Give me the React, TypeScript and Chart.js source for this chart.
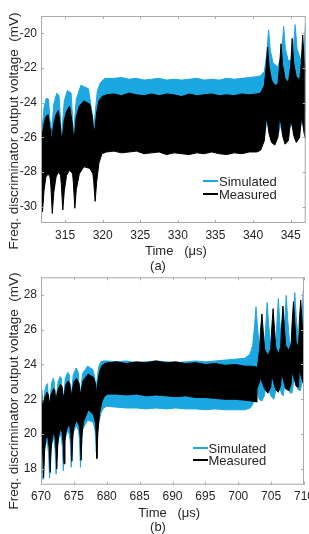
import React, { useEffect, useRef } from "react";
import { Chart, registerables } from "chart.js";

Chart.register(...registerables);

// ---------- Panel (a): 311.8 – 347 µs, output in mV ----------
// Each trace is a dense oscillation, stored as its upper / lower envelope.
const timeMeasA = [
  311.8, 312.0, 312.2, 312.45, 312.75, 313.0,
  313.1, 313.3, 313.5, 313.8, 314.1, 314.4,
  314.5, 314.7, 314.9, 315.2, 315.6, 316.0,
  316.1, 316.3, 316.5, 316.9, 317.5, 318.3, 318.7,
  318.8, 319.0, 319.2, 319.5, 319.9, 320.5,
  321.5, 322.5, 323.5, 324.5, 325.5, 326.5, 327.5, 328.5, 329.5, 330.5,
  331.5, 332.5, 333.5, 334.5, 335.5, 336.5, 337.5, 338.5, 339.5, 340.5,
  341.0, 341.5, 341.73, 341.93, 342.13, 342.45, 342.9,
  343.3, 343.52, 343.72, 343.92, 344.25, 344.7,
  345.0, 345.2, 345.4, 345.75, 346.2,
  346.4, 346.6, 346.8, 347.0,
];
const upperMeasA = [
  -25.6, -25.8, -25.2, -24.8, -24.7, -25.5,
  -26.2, -25.9, -25.2, -24.7, -24.45, -25.4,
  -26.1, -25.8, -25.0, -24.5, -24.2, -25.3,
  -26.0, -25.7, -24.8, -24.2, -23.9, -24.1, -25.0,
  -25.8, -25.4, -24.6, -23.9, -23.65, -23.55,
  -23.5, -23.6, -23.45, -23.55, -23.6, -23.5, -23.6, -23.5, -23.55, -23.65,
  -23.5, -23.6, -23.55, -23.5, -23.6, -23.55, -23.6, -23.5, -23.55, -23.5,
  -23.45, -23.0, -22.0, -20.8, -21.9, -22.7, -23.0,
  -22.95, -21.9, -20.6, -21.8, -22.6, -22.85,
  -21.9, -20.3, -21.7, -22.5, -22.7,
  -21.8, -20.1, -21.6, -22.3,
];
const lowerMeasA = [
  -29.3, -30.3, -29.1, -28.3, -28.1, -28.3,
  -28.7, -30.4, -29.2, -28.3, -28.0, -28.2,
  -28.7, -30.2, -29.1, -28.2, -27.9, -28.1,
  -28.6, -30.1, -29.0, -28.1, -27.7, -27.8, -28.1,
  -28.5, -29.7, -28.6, -27.5, -26.95, -26.85,
  -26.8, -26.9, -26.85, -26.8, -26.95, -26.9, -26.85, -27.0, -26.9, -26.95,
  -27.0, -26.9, -26.95, -26.85, -26.95, -27.0, -26.9, -26.95, -26.85, -26.85,
  -26.75, -26.2, -24.9, -25.2, -25.8, -26.3, -26.45,
  -26.0, -24.9, -25.2, -25.9, -26.4, -26.2,
  -25.0, -25.3, -25.9, -26.3, -26.0,
  -24.9, -25.2, -25.8, -26.1,
];

const timeSimA = [
  311.8, 312.0, 312.2, 312.5, 312.8, 313.0,
  313.1, 313.3, 313.5, 313.9, 314.2, 314.4,
  314.5, 314.7, 314.9, 315.3, 315.8, 316.0,
  316.1, 316.3, 316.5, 317.1, 318.1, 318.6,
  318.8, 319.0, 319.3, 319.7, 320.3,
  321.5, 322.5, 323.5, 324.5, 325.5, 326.5, 327.5, 328.5, 329.5, 330.5,
  331.5, 332.5, 333.5, 334.5, 335.5, 336.5, 337.5, 338.5, 339.5, 340.5,
  341.0, 341.5, 341.8, 342.07, 342.3, 342.65,
  343.3, 343.8, 344.07, 344.3, 344.7,
  345.25, 345.6, 345.85, 346.3,
  346.75, 347.0,
];
const upperSimA = [
  -24.8, -25.3, -24.3, -23.75, -23.8, -25.1,
  -26.3, -25.2, -24.1, -23.45, -23.6, -25.0,
  -26.2, -25.0, -23.9, -23.3, -23.45, -24.9,
  -26.1, -24.8, -23.8, -23.0, -23.2, -24.6,
  -25.8, -24.6, -23.3, -22.85, -22.6,
  -22.6, -22.55, -22.65, -22.6, -22.7, -22.65, -22.6, -22.7, -22.65, -22.7,
  -22.65, -22.6, -22.7, -22.65, -22.7, -22.6, -22.65, -22.6, -22.55, -22.5,
  -22.45, -22.2, -21.3, -19.8, -21.0, -21.7,
  -21.95, -21.2, -19.6, -20.9, -21.6,
  -21.5, -19.5, -20.9, -21.5,
  -21.0, -19.4,
];
const lowerSimA = [
  -28.1, -27.6, -27.2, -27.1, -27.2, -27.7,
  -28.2, -27.6, -27.2, -27.0, -27.2, -27.7,
  -28.2, -27.7, -27.2, -27.0, -27.1, -27.6,
  -28.2, -27.7, -27.3, -27.0, -27.2, -27.8,
  -28.3, -27.6, -26.9, -26.6, -26.45,
  -26.4, -26.45, -26.4, -26.4, -26.45, -26.4, -26.4, -26.45, -26.4, -26.4,
  -26.45, -26.4, -26.4, -26.45, -26.4, -26.4, -26.45, -26.4, -26.4, -26.35,
  -26.3, -26.0, -25.2, -24.4, -25.0, -25.6,
  -25.9, -25.1, -24.2, -24.9, -25.5,
  -25.3, -24.2, -24.9, -25.4,
  -24.9, -24.2,
];

const xTicksA = [315, 320, 325, 330, 335, 340, 345];
const yTicksA = [-30, -28, -26, -24, -22, -20];

// ---------- Panel (b): 670 – 710 µs ----------
const timeMeasB = [
  670.0, 670.1, 670.25, 670.4, 670.55, 670.7, 670.9,
  671.1, 671.25, 671.4, 671.55, 671.7, 671.9,
  672.1, 672.25, 672.4, 672.55, 672.7, 672.95,
  673.2, 673.35, 673.5, 673.65, 673.8, 674.1,
  674.4, 674.55, 674.7, 674.85, 675.0, 675.4,
  675.8, 675.95, 676.1, 676.25, 676.45, 677.2,
  678.0, 678.3, 678.4, 678.5, 678.65, 678.9, 679.3, 679.7, 680.2,
  681.5, 683.0, 684.5, 686.0, 687.5, 689.0, 690.5, 692.0, 693.5, 695.0,
  696.5, 698.0, 699.5, 701.0, 702.0, 702.8, 702.85,
  703.25, 703.38, 703.6, 703.82, 704.0, 704.5,
  704.95, 705.08, 705.3, 705.52, 705.7, 706.1,
  706.45, 706.58, 706.8, 707.02, 707.2, 707.7,
  708.05, 708.18, 708.4, 708.62, 708.8, 709.1,
  709.2, 709.28, 709.5, 709.72, 709.9, 710.0,
];
const upperMeasB = [
  22.2, 22.1, 21.5, 21.8, 22.1, 22.2, 22.4,
  22.3, 21.7, 22.0, 22.3, 22.4, 22.6,
  22.55, 21.9, 22.2, 22.5, 22.65, 22.85,
  22.75, 22.0, 22.3, 22.6, 22.85, 23.05,
  22.9, 22.1, 22.4, 22.7, 23.0, 23.2,
  22.9, 22.2, 22.5, 22.8, 23.1, 23.45,
  23.25, 22.9, 22.3, 22.6, 23.0, 23.6, 23.95, 24.05, 24.1,
  24.15, 24.05, 24.15, 24.1, 24.2, 24.1, 24.15, 24.05, 24.1, 24.0,
  24.05, 23.95, 24.0, 23.9, 23.9, 23.85, 23.6,
  24.9, 25.9, 26.9, 25.8, 24.9, 24.5,
  24.9, 26.0, 27.2, 26.0, 25.0, 24.6,
  25.0, 26.1, 27.35, 26.1, 25.1, 24.8,
  25.2, 26.3, 27.6, 26.3, 25.3, 25.0,
  25.3, 26.4, 27.7, 26.4, 25.4, 25.2,
];
const lowerMeasB = [
  19.8, 19.6, 19.1, 17.5, 19.1, 19.6, 20.0,
  19.7, 19.2, 17.8, 19.2, 19.7, 20.1,
  19.9, 19.4, 18.0, 19.4, 19.9, 20.3,
  20.1, 19.6, 18.3, 19.6, 20.1, 20.5,
  20.4, 19.9, 18.45, 19.9, 20.4, 20.8,
  20.5, 20.0, 18.5, 20.0, 20.7, 21.4,
  21.1, 20.6, 20.0, 18.6, 20.1, 21.2, 21.9, 22.2, 22.3,
  22.3, 22.25, 22.3, 22.2, 22.25, 22.2, 22.15, 22.2, 22.1, 22.1,
  22.05, 22.0, 22.0, 21.95, 21.9, 21.85, 22.6,
  23.0, 23.3, 23.0, 22.8, 22.6, 22.35,
  22.7, 23.4, 23.1, 22.8, 22.55, 22.4,
  22.8, 23.5, 23.2, 22.9, 22.6, 22.5,
  22.9, 23.6, 23.3, 23.0, 22.75, 22.7,
  23.0, 23.7, 23.4, 23.1, 22.9, 22.85,
];

const timeSimB = [
  670.0, 670.15, 670.3, 670.45, 670.6, 670.8,
  671.0, 671.15, 671.3, 671.45, 671.6, 671.85,
  672.0, 672.15, 672.3, 672.45, 672.6, 672.9,
  673.1, 673.25, 673.4, 673.55, 673.7, 674.05,
  674.3, 674.45, 674.6, 674.75, 674.9, 675.35,
  675.7, 675.85, 676.0, 676.15, 676.35, 677.1,
  677.9, 678.2, 678.3, 678.4, 678.55, 678.8, 679.1, 679.5, 680.0,
  681.5, 683.0, 684.5, 686.0, 687.5, 689.0, 690.5, 692.0, 693.5, 695.0,
  696.5, 698.0, 699.5, 701.0, 701.8, 702.2, 702.5,
  702.7, 702.9, 703.2, 703.6, 703.95, 704.2,
  704.4, 704.6, 704.95, 705.4, 705.7, 705.9,
  706.1, 706.3, 706.6, 706.85, 707.05, 707.3,
  707.5, 707.8, 708.15, 708.4, 708.6, 708.8,
  709.1, 709.45, 709.7, 709.9, 710.0,
];
const upperSimB = [
  22.5, 21.3, 21.6, 22.0, 22.5, 22.8,
  22.9, 21.5, 21.8, 22.3, 22.9, 23.2,
  23.0, 21.7, 22.0, 22.5, 23.0, 23.3,
  23.2, 21.8, 22.1, 22.6, 23.2, 23.55,
  23.4, 21.9, 22.2, 22.8, 23.4, 23.8,
  23.5, 22.0, 22.3, 22.9, 23.5, 23.9,
  23.7, 23.2, 22.2, 22.6, 23.2, 23.9, 24.15, 24.2, 24.2,
  24.15, 24.2, 24.1, 24.15, 24.2, 24.15, 24.1, 24.15, 24.2, 24.15,
  24.2, 24.25, 24.3, 24.35, 24.6, 25.1, 26.3,
  27.3, 26.3, 25.0, 24.5, 24.9, 26.3,
  27.55, 26.4, 25.0, 24.6, 25.2, 26.5,
  27.78, 26.5, 25.2, 25.0, 26.3, 27.96,
  26.7, 25.3, 25.1, 26.6, 28.12, 26.8,
  25.5, 25.3, 26.7, 28.25, 27.2,
];
const lowerSimB = [
  19.2, 18.7, 17.4, 18.7, 19.2, 19.6,
  19.4, 18.9, 17.5, 18.9, 19.4, 19.8,
  19.6, 19.1, 17.7, 19.1, 19.6, 20.0,
  19.8, 19.3, 17.9, 19.3, 19.8, 20.2,
  20.0, 19.6, 18.1, 19.6, 20.1, 20.5,
  20.2, 19.7, 18.1, 19.7, 20.3, 20.8,
  20.7, 20.3, 19.8, 19.0, 19.9, 20.7, 21.2, 21.5, 21.6,
  21.55, 21.5, 21.5, 21.45, 21.5, 21.45, 21.5, 21.45, 21.45, 21.4,
  21.45, 21.4, 21.4, 21.4, 21.5, 21.7, 22.2,
  22.9, 22.4, 22.0, 21.9, 22.2, 22.7,
  23.1, 22.6, 22.2, 22.0, 22.5, 22.9,
  23.2, 22.7, 22.3, 22.2, 22.8, 23.3,
  22.8, 22.4, 22.35, 22.9, 23.4, 22.9,
  22.55, 22.5, 23.0, 23.5, 23.3,
];

const xTicksB = [670, 675, 680, 685, 690, 695, 700, 705, 710];
const yTicksB = [18, 20, 22, 24, 26, 28];

const seriesNames = ["Simulated", "Measured"];

const SIM_COLOR = "#1ba7e2";
const MEAS_COLOR = "#000000";
const FRAME_COLOR = "#a9a9a9";
const TEXT_COLOR = "#262626";
const FONT = "'Liberation Sans', Arial, Helvetica, sans-serif";
const CANVAS_W = 330;

type Band = { t: number[]; hi: number[]; lo: number[] };

function toPoints(t: number[], v: number[]) {
  return t.map((x, i) => ({ x, y: v[i] }));
}

// Box around the plot area with short inward ticks on all four sides.
const framePlugin = {
  id: "frame",
  afterDatasetsDraw(chart: any) {
    const { ctx, chartArea: a, scales } = chart;
    const len = 3;
    ctx.save();
    ctx.strokeStyle = FRAME_COLOR;
    ctx.lineWidth = 1;
    ctx.strokeRect(a.left + 0.5, a.top + 0.5, a.right - a.left - 1, a.bottom - a.top - 1);
    ctx.beginPath();
    for (const tk of scales.x.ticks) {
      const px = Math.round(scales.x.getPixelForValue(tk.value)) + 0.5;
      ctx.moveTo(px, a.bottom);
      ctx.lineTo(px, a.bottom - len);
      ctx.moveTo(px, a.top);
      ctx.lineTo(px, a.top + len);
    }
    for (const tk of scales.y.ticks) {
      const py = Math.round(scales.y.getPixelForValue(tk.value)) + 0.5;
      ctx.moveTo(a.left, py);
      ctx.lineTo(a.left + len, py);
      ctx.moveTo(a.right, py);
      ctx.lineTo(a.right - len, py);
    }
    ctx.stroke();
    ctx.restore();
  },
};

type PanelProps = {
  top: number;
  height: number;
  pad: { top: number; right: number; bottom: number };
  xRange: [number, number];
  yRange: [number, number];
  xTicks: number[];
  yTicks: number[];
  measured: Band;
  simulated: Band;
};

function Panel(p: PanelProps) {
  const ref = useRef<HTMLCanvasElement>(null);

  useEffect(() => {
    const lineStyle = { pointRadius: 0, borderWidth: 1, tension: 0 };
    const tickFont = { family: FONT, size: 12 };
    const chart = new Chart(ref.current as HTMLCanvasElement, {
      type: "line",
      data: {
        datasets: [
          // index 0/1: measured envelope (drawn last, on top)
          { ...lineStyle, data: toPoints(p.measured.t, p.measured.hi), borderColor: MEAS_COLOR, fill: false },
          { ...lineStyle, data: toPoints(p.measured.t, p.measured.lo), borderColor: MEAS_COLOR, backgroundColor: MEAS_COLOR, fill: "-1" },
          // index 2/3: simulated envelope
          { ...lineStyle, data: toPoints(p.simulated.t, p.simulated.hi), borderColor: SIM_COLOR, fill: false },
          { ...lineStyle, data: toPoints(p.simulated.t, p.simulated.lo), borderColor: SIM_COLOR, backgroundColor: SIM_COLOR, fill: "-1" },
        ],
      },
      options: {
        animation: false,
        responsive: false,
        maintainAspectRatio: false,
        layout: { padding: { left: 0, top: p.pad.top, right: p.pad.right, bottom: p.pad.bottom } },
        plugins: { legend: { display: false }, tooltip: { enabled: false } },
        scales: {
          x: {
            type: "linear",
            min: p.xRange[0],
            max: p.xRange[1],
            grid: { display: false, drawTicks: false },
            border: { display: false },
            ticks: { font: tickFont, color: TEXT_COLOR, padding: 5, maxRotation: 0, callback: (v: any) => String(v) },
            afterBuildTicks: (s: any) => {
              s.ticks = p.xTicks.map((value) => ({ value }));
            },
            afterFit: (s: any) => {
              s.height = 20;
            },
          },
          y: {
            type: "linear",
            min: p.yRange[0],
            max: p.yRange[1],
            grid: { display: false, drawTicks: false },
            border: { display: false },
            ticks: { font: tickFont, color: TEXT_COLOR, padding: 4, callback: (v: any) => String(v) },
            afterBuildTicks: (s: any) => {
              s.ticks = p.yTicks.map((value) => ({ value }));
            },
            afterFit: (s: any) => {
              s.width = 41;
            },
          },
        },
      },
      plugins: [framePlugin],
    });
    return () => chart.destroy();
  }, []);

  return (
    <div style={{ position: "absolute", left: 0, top: p.top, width: CANVAS_W, height: p.height }}>
      <canvas ref={ref} width={CANVAS_W} height={p.height} style={{ display: "block" }} />
    </div>
  );
}

const textBase: React.CSSProperties = {
  position: "absolute",
  fontFamily: FONT,
  color: TEXT_COLOR,
  whiteSpace: "pre",
  lineHeight: 1,
};

function YTitle({ cx, cy }: { cx: number; cy: number }) {
  return (
    <div
      style={{
        ...textBase,
        left: cx,
        top: cy,
        fontSize: 13.5,
        transform: "translate(-50%, -50%) rotate(-90deg)",
      }}
    >
      {"Freq. discriminator output voltage  (mV)"}
    </div>
  );
}

function XTitle({ left, cy, caption, capCx, capCy }: { left: number; cy: number; caption: string; capCx: number; capCy: number }) {
  return (
    <>
      <div style={{ ...textBase, left, top: cy, fontSize: 13, transform: "translateY(-50%)" }}>{"Time   (\u03bcs)"}</div>
      <div style={{ ...textBase, left: capCx, top: capCy, fontSize: 13, transform: "translate(-50%, -50%)" }}>{caption}</div>
    </>
  );
}

function Legend({ x, y }: { x: number; y: number }) {
  const colors = [SIM_COLOR, MEAS_COLOR];
  return (
    <>
      {seriesNames.map((name, i) => (
        <React.Fragment key={name}>
          <div style={{ position: "absolute", left: x, top: y + i * 12.5 - 1, width: 15, height: 2, background: colors[i] }} />
          <div style={{ ...textBase, left: x + 16, top: y + i * 12.5, fontSize: 13, transform: "translateY(-50%)" }}>{name}</div>
        </React.Fragment>
      ))}
    </>
  );
}

export default function App() {
  return (
    <div style={{ position: "absolute", left: 0, top: 0, width: 309, height: 534, overflow: "hidden", background: "#fff" }}>
      <Panel
        top={0}
        height={245}
        pad={{ top: 16, right: CANVAS_W - 305.7, bottom: 2 }}
        xRange={[311.8, 347]}
        yRange={[-30.95, -19.0]}
        xTicks={xTicksA}
        yTicks={yTicksA}
        measured={{ t: timeMeasA, hi: upperMeasA, lo: lowerMeasA }}
        simulated={{ t: timeSimA, hi: upperSimA, lo: lowerSimA }}
      />
      <Panel
        top={264}
        height={245}
        pad={{ top: 13.3, right: CANVAS_W - 304, bottom: 4.3 }}
        xRange={[670, 710]}
        yRange={[17.1, 29.0]}
        xTicks={xTicksB}
        yTicks={yTicksB}
        measured={{ t: timeMeasB, hi: upperMeasB, lo: lowerMeasB }}
        simulated={{ t: timeSimB, hi: upperSimB, lo: lowerSimB }}
      />
      <YTitle cx={14} cy={131} />
      <YTitle cx={13.5} cy={391} />
      <XTitle left={145} cy={250} caption="(a)" capCx={158} capCy={265} />
      <XTitle left={138.3} cy={512} caption="(b)" capCx={158} capCy={526} />
      <Legend x={203} y={181} />
      <Legend x={192.5} y={447.5} />
    </div>
  );
}
